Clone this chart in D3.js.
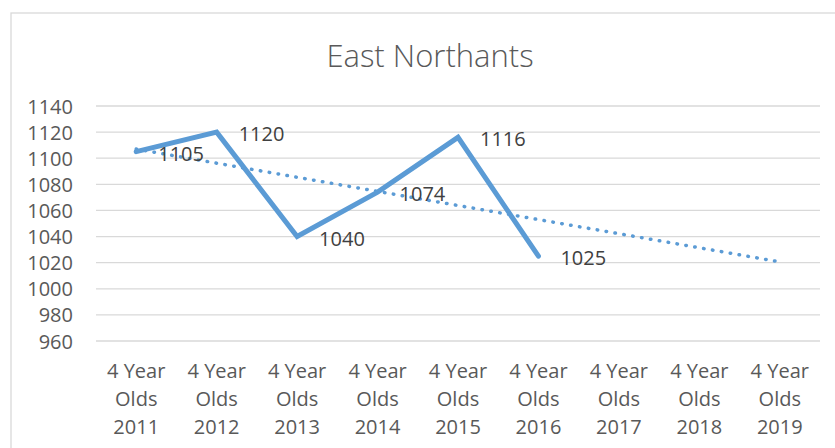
<!DOCTYPE html>
<html>
<head>
<meta charset="utf-8">
<script src="https://d3js.org/d3.v7.min.js"></script>
<style>
  body { margin: 0; background: #fff; }
  svg text { font-family: "Open Sans", "Liberation Sans", sans-serif; }
  .tick text { fill: #595959; font-size: 20px; }
  .grid line { stroke: #d9d9d9; stroke-width: 1.3; }
</style>
</head>
<body>
<svg width="835" height="448"></svg>
<script>
// categories and values
var years = ["2011", "2012", "2013", "2014", "2015", "2016", "2017", "2018", "2019"];
var values = [1105, 1120, 1040, 1074, 1116, 1025];
var yTicks = [960, 980, 1000, 1020, 1040, 1060, 1080, 1100, 1120, 1140];

var svg = d3.select("svg");
var margin = {top: 106, right: 15, bottom: 107, left: 96};
var width = 835 - margin.left - margin.right,
    height = 448 - margin.top - margin.bottom;

// chart frame
svg.append("rect")
  .attr("x", 11).attr("y", 13)
  .attr("width", 840).attr("height", 450)
  .attr("fill", "none")
  .attr("stroke", "#d9d9d9")
  .attr("stroke-width", 1.3);

svg.append("text")
  .attr("x", 430).attr("y", 67)
  .attr("text-anchor", "middle")
  .attr("font-size", 31)
  .attr("font-weight", 300)
  .attr("fill", "#595959")
  .text("East Northants");

var g = svg.append("g").attr("transform", "translate(" + margin.left + "," + margin.top + ")");

var x = d3.scaleBand().domain(years).range([0, width]);
var y = d3.scaleLinear().domain([960, 1140]).range([235, 0]);

// gridlines
g.append("g").attr("class", "grid")
  .selectAll("line").data(yTicks).enter().append("line")
  .attr("x1", 0).attr("x2", width)
  .attr("y1", function(d) { return y(d); })
  .attr("y2", function(d) { return y(d); });

// y axis
var yAxis = g.append("g")
  .attr("transform", "translate(-23,0)")
  .call(d3.axisLeft(y).tickValues(yTicks).tickSize(0).tickPadding(0).tickFormat(d3.format("d")));
yAxis.select(".domain").remove();
yAxis.selectAll(".tick text").attr("dy", "0.35em");

// x axis, three lines per label
var xAxis = g.append("g")
  .attr("transform", "translate(0," + 235 + ")")
  .call(d3.axisBottom(x).tickSize(0).tickFormat(""));
xAxis.select(".domain").remove();
xAxis.selectAll(".tick").each(function(d) {
  var t = d3.select(this).append("text")
    .attr("text-anchor", "middle")
    .attr("fill", "#595959")
    .attr("font-size", 19.5);
  var lines = ["4 Year", "Olds", d];
  lines.forEach(function(s, i) {
    t.append("tspan").attr("x", 0).attr("y", 37 + i * 28).text(s);
  });
});

function cx(i) { return x(years[i]) + x.bandwidth() / 2; }

// linear trendline (least squares on the series, extended to all categories)
var mx = d3.mean(values, function(d, i) { return i; });
var my = d3.mean(values);
var sxy = d3.sum(values, function(d, i) { return (i - mx) * (d - my); });
var sxx = d3.sum(values, function(d, i) { return (i - mx) * (i - mx); });
var slope = sxy / sxx, icpt = my - slope * mx;
var last = years.length - 1;

g.append("line")
  .attr("x1", cx(0)).attr("y1", y(icpt))
  .attr("x2", cx(last)).attr("y2", y(icpt + slope * last))
  .attr("stroke", "#5b9bd5")
  .attr("stroke-width", 3.5)
  .attr("stroke-linecap", "round")
  .attr("stroke-dasharray", "0.5 8.5");

// series line
var line = d3.line()
  .x(function(d, i) { return cx(i); })
  .y(function(d) { return y(d); });

g.append("path")
  .datum(values)
  .attr("d", line)
  .attr("fill", "none")
  .attr("stroke", "#5b9bd5")
  .attr("stroke-width", 5)
  .attr("stroke-linejoin", "miter")
  .attr("stroke-linecap", "round");

// data labels
g.selectAll(".lbl").data(values).enter().append("text")
  .attr("class", "lbl")
  .attr("x", function(d, i) { return cx(i) + 22; })
  .attr("y", function(d) { return y(d) + 2; })
  .attr("dy", "0.35em")
  .attr("font-size", 20)
  .attr("fill", "#404040")
  .text(function(d) { return d; });
</script>
</body>
</html>
